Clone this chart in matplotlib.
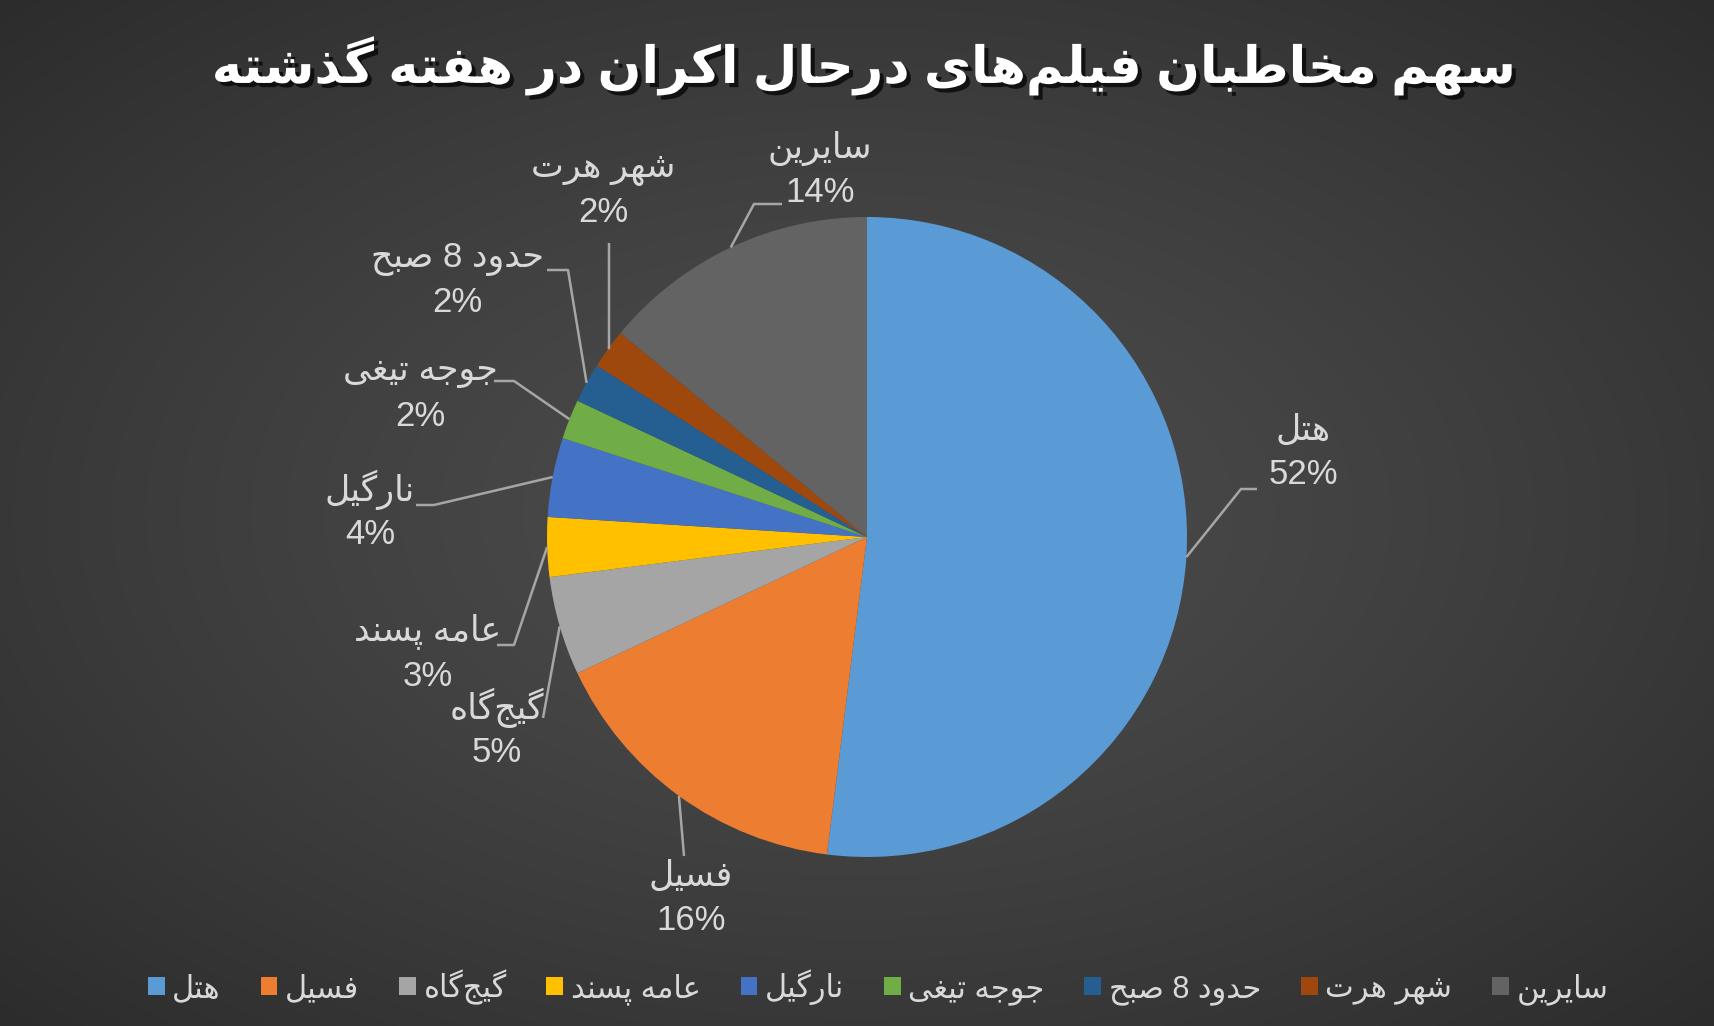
import re

import matplotlib
matplotlib.use('Agg')  # NOQA
from matplotlib import pyplot as plt
from matplotlib import patheffects as pe
from matplotlib.patches import Patch
import numpy as np

plt.rcParams['font.family'] = ['Liberation Sans', 'DejaVu Sans']

W, H = 1714, 1026

title = 'سهم مخاطبان فیلم\u200cهای درحال اکران در هفته گذشته'
films = ['هتل', 'فسیل', 'گیج\u200cگاه', 'عامه پسند', 'نارگیل',
         'جوجه تیغی', 'حدود 8 صبح', 'شهر هرت', 'سایرین']
shares = [52, 16, 5, 3, 4, 2, 2, 2, 14]
colors = ['#5B9BD5', '#ED7D31', '#A5A5A5', '#FFC000', '#4472C4',
          '#70AD47', '#255E91', '#9E480E', '#636363']

# label centres and leader elbows, in image pixels (origin top-left)
label_pos = [(1303, 430), (691, 876), (497, 708), (428, 632), (370, 490),
             (420, 372), (457, 259), (603, 169), (820, 148)]
leader_pts = [[(1241, 489), (1257, 489)], [(684, 856)], [(543, 718)],
              [(514, 645), (497, 645)], [(434, 505), (416, 505)],
              [(514, 381), (494, 381)], [(568, 270), (547, 270)],
              [(609, 348), (609, 243)], [(754, 204), (782, 204)]]

# --- minimal Persian shaping (matplotlib has no complex text layout) ---
FORMS = {
    'ا': '\uFE8D\uFE8E', 'آ': '\uFE81\uFE82',
    'ب': '\uFE8F\uFE90\uFE91\uFE92', 'پ': '\uFB56\uFB57\uFB58\uFB59',
    'ت': '\uFE95\uFE96\uFE97\uFE98', 'ث': '\uFE99\uFE9A\uFE9B\uFE9C',
    'ج': '\uFE9D\uFE9E\uFE9F\uFEA0', 'ح': '\uFEA1\uFEA2\uFEA3\uFEA4',
    'خ': '\uFEA5\uFEA6\uFEA7\uFEA8', 'د': '\uFEA9\uFEAA',
    'ذ': '\uFEAB\uFEAC', 'ر': '\uFEAD\uFEAE', 'ز': '\uFEAF\uFEB0',
    'س': '\uFEB1\uFEB2\uFEB3\uFEB4', 'ش': '\uFEB5\uFEB6\uFEB7\uFEB8',
    'ص': '\uFEB9\uFEBA\uFEBB\uFEBC', 'ط': '\uFEC1\uFEC2\uFEC3\uFEC4',
    'ع': '\uFEC9\uFECA\uFECB\uFECC', 'غ': '\uFECD\uFECE\uFECF\uFED0',
    'ف': '\uFED1\uFED2\uFED3\uFED4', 'ق': '\uFED5\uFED6\uFED7\uFED8',
    '\u06a9': '\uFB8E\uFB8F\uFB90\uFB91', 'گ': '\uFB92\uFB93\uFB94\uFB95',
    'ل': '\uFEDD\uFEDE\uFEDF\uFEE0', 'م': '\uFEE1\uFEE2\uFEE3\uFEE4',
    'ن': '\uFEE5\uFEE6\uFEE7\uFEE8', 'ه': '\uFEE9\uFEEA\uFEEB\uFEEC',
    'و': '\uFEED\uFEEE', '\u06cc': '\uFBFC\uFBFD\uFBFE\uFBFF',
}


def shape(word):
    word = word.replace('\u064a', '\u06cc').replace('\u0643', '\u06a9')
    out = []
    for i, ch in enumerate(word):
        forms = FORMS.get(ch)
        if forms is None:
            out.append(ch)
            continue
        prev = word[i - 1] if i > 0 else ''
        nxt = word[i + 1] if i + 1 < len(word) else ''
        jp = len(FORMS.get(prev, '')) == 4
        jn = len(forms) == 4 and nxt in FORMS
        if jp and jn:
            out.append(forms[3])
        elif jp:
            out.append(forms[1])
        elif jn:
            out.append(forms[2])
        else:
            out.append(forms[0])
    return ''.join(out).replace('\u200c', '')


def fa(text):
    parts = re.findall(r'[0-9%]+|[^0-9%]+', shape(text))
    return ''.join(p if p[0] in '0123456789%' else p[::-1] for p in reversed(parts))


fig = plt.figure(figsize=(W / 100, H / 100), dpi=100)
ax = fig.add_axes([0, 0, 1, 1])

# radial dark background
yy, xx = np.mgrid[0:H, 0:W]
d = np.hypot((xx - W / 2) / W, (yy - H / 2) / H) / 0.7071
bg = (76 - 32 * d ** 1.3) / 255
ax.imshow(np.dstack([bg, bg, bg]), extent=(0, W, 0, H), zorder=0)

cx, cy, r = 867, H - 537, 320
wedges, _ = ax.pie(shares, colors=colors, startangle=90, counterclock=False,
                   center=(cx, cy), radius=r, wedgeprops=dict(linewidth=0))
for w in wedges:
    w.set_zorder(2)

txt_col = '#d9d9d9'
for w, name, val, (lx, ly), pts in zip(wedges, films, shares, label_pos, leader_pts):
    mid = np.deg2rad((w.theta1 + w.theta2) / 2)
    ax_x = [cx + r * np.cos(mid)] + [p[0] for p in pts]
    ax_y = [cy + r * np.sin(mid)] + [H - p[1] for p in pts]
    ax.plot(ax_x, ax_y, color='#a6a6a6', lw=1.8, zorder=3, solid_capstyle='butt')
    ax.text(lx, H - ly, fa(name), color=txt_col, fontsize=25,
            ha='center', va='center', zorder=4)
    ax.text(lx, H - ly - 44, f'{val}%', color=txt_col, fontsize=25,
            ha='center', va='center', zorder=4)

ax.text(864, H - 66, fa(title), color='white', fontsize=37, fontweight='bold',
        ha='center', va='center', zorder=4,
        path_effects=[pe.SimplePatchShadow(offset=(3, -3), shadow_rgbFace='black', alpha=0.7),
                      pe.Normal()])

handles = [Patch(facecolor=c) for c in colors]
leg = fig.legend(handles, [fa(f) for f in films], ncol=len(films), loc='center',
                 bbox_to_anchor=(878 / W, 1 - 987 / H), frameon=False,
                 fontsize=22, labelcolor=txt_col, handlelength=0.55, handleheight=0.55,
                 handletextpad=0.25, columnspacing=1.3)

ax.set_xlim(0, W)
ax.set_ylim(0, H)
ax.set_aspect('equal')
ax.axis('off')

fig.savefig('out.png', dpi=100)
